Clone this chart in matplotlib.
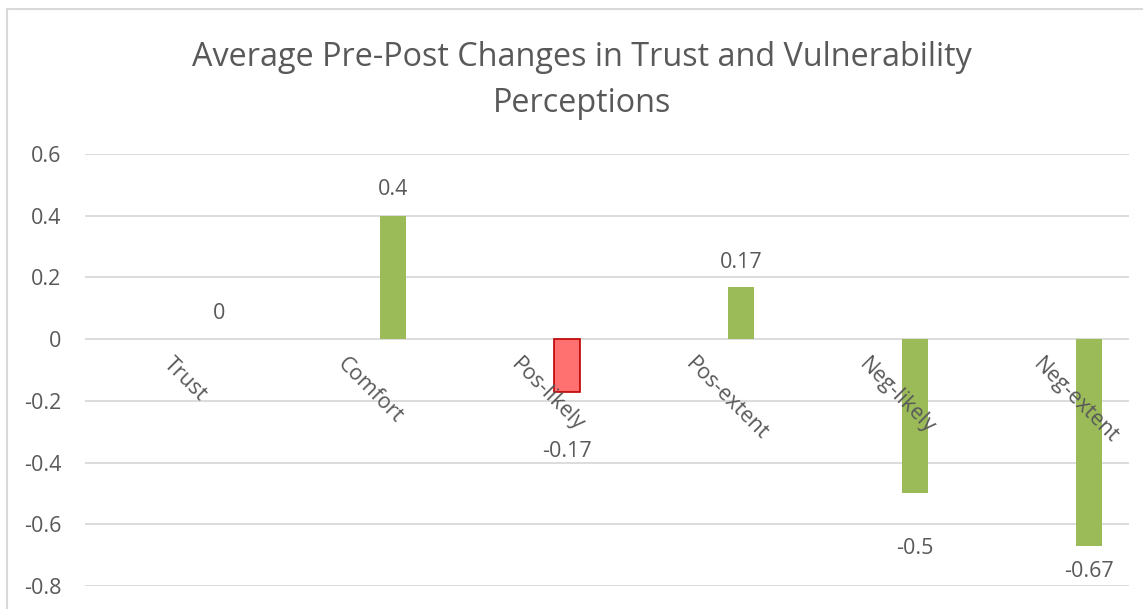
import numpy as np
import matplotlib.pyplot as plt
from matplotlib.patches import Rectangle

# chart data
categories = ["Trust", "Comfort", "Pos-likely", "Pos-extent", "Neg-likely", "Neg-extent"]
changes = [0, 0.4, -0.17, 0.17, -0.5, -0.67]
value_labels = ["0", "0.4", "-0.17", "0.17", "-0.5", "-0.67"]
y_ticks = [0.6, 0.4, 0.2, 0, -0.2, -0.4, -0.6, -0.8]
y_tick_labels = ["0.6", "0.4", "0.2", "0", "-0.2", "-0.4", "-0.6", "-0.8"]

plt.rcParams['font.family'] = ['Open Sans', 'DejaVu Sans']
text_col = "#595959"
grid_col = "#d9d9d9"

fig = plt.figure(figsize=(11.43, 6.09), dpi=100)
W, H = 1143, 609
ax = fig.add_axes([85 / W, 1 - 586 / H, (1129 - 85) / W, (586 - 154) / H])

# chart border (cropped on right/bottom)
fig.patches.append(Rectangle((7 / W, -0.1), 1.2, (609 - 9) / H + 0.1, transform=fig.transFigure,
                             fill=False, edgecolor=grid_col, linewidth=1.5))

x = np.arange(len(categories))
offset = 0.27
width = 0.144
face = ["#ff7070" if c == "Pos-likely" else "#9bbb59" for c in categories]
edge = ["#c00000" if c == "Pos-likely" else "none" for c in categories]
ax.bar(x + offset, changes, width, color=face, edgecolor=edge, linewidth=1.2, zorder=3)

# data label offsets (px), as placed in the original
label_shift = [26, 26, -60, 24, -55, -26]
for xi, v, lab, s in zip(x, changes, value_labels, label_shift):
    ax.annotate(lab, (xi + offset, v), xytext=(0, s * 0.72), textcoords="offset points",
                ha="center", va="center", fontsize=15.5, color=text_col)

# category labels rotated, sitting just under the zero line
for xi, c in zip(x, categories):
    ax.annotate(c, (xi, 0), xytext=(-4, -16), textcoords="offset points",
                rotation=-45, rotation_mode="anchor", ha="left", va="center",
                fontsize=15.5, color=text_col)

ax.set_xlim(-0.5, len(categories) - 0.5)
ax.set_ylim(-0.8, 0.6)
ax.set_yticks(y_ticks)
ax.set_yticklabels(y_tick_labels, fontsize=15.5, color=text_col)
ax.set_xticks([])
ax.tick_params(axis="y", length=0, pad=17)
ax.grid(axis="y", color=grid_col, linewidth=1.3, zorder=0)
for sp in ax.spines.values():
    sp.set_visible(False)

fig.text(582 / W, 1 - 58 / H, "Average Pre-Post Changes in Trust and Vulnerability",
         ha="center", va="center", fontsize=23.3, color=text_col)
fig.text(582 / W, 1 - 103 / H, "Perceptions", ha="center", va="center", fontsize=23.3, color=text_col)

fig.savefig("out.png", dpi=100)
